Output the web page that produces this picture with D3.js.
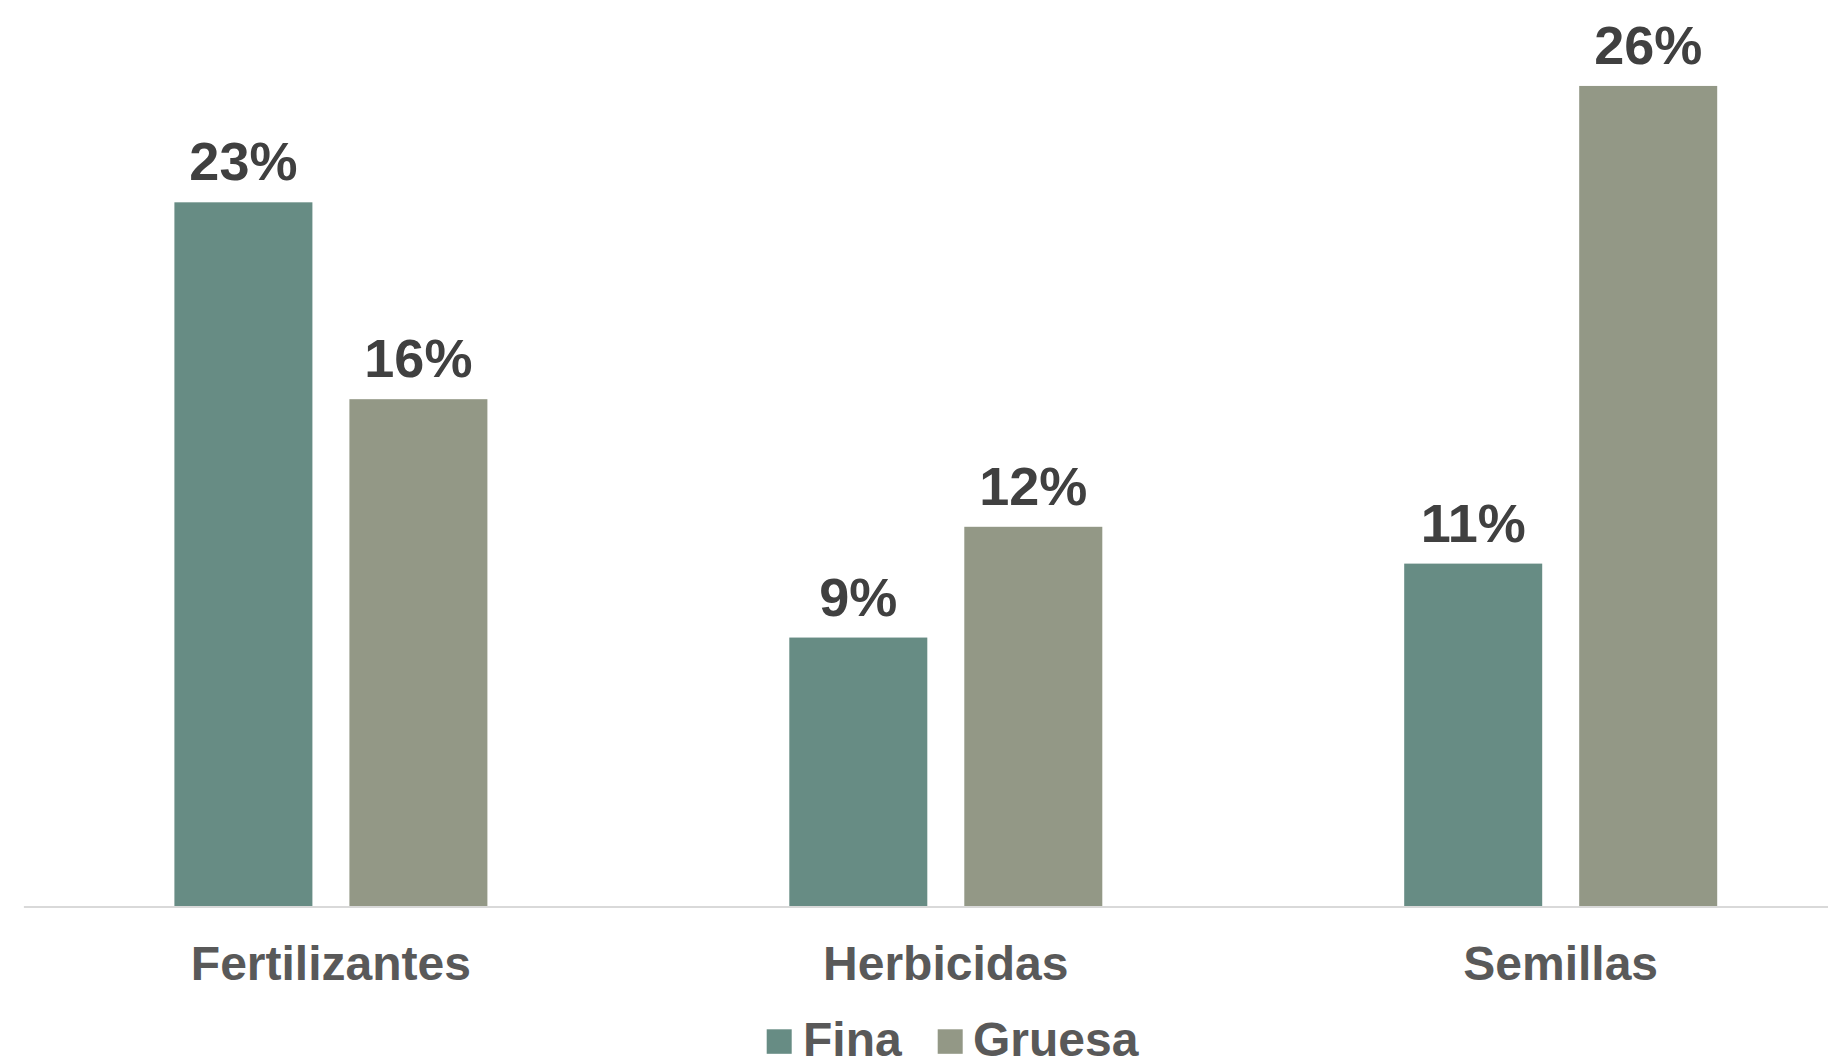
<!DOCTYPE html>
<html>
<head>
<meta charset="utf-8">
<script src="https://cdn.jsdelivr.net/npm/d3@7"></script>
<style>
  html, body { margin: 0; padding: 0; background: #ffffff; overflow: hidden; }
  svg { display: block; font-family: "Liberation Sans", Arial, sans-serif; }
</style>
</head>
<body>
<svg id="chart" width="1828" height="1060"></svg>
<script>
const categories = ["Fertilizantes", "Herbicidas", "Semillas"];
const seriesNames = ["Fina", "Gruesa"];
const finaValues = [22.57, 8.62, 10.99];
const gruesaValues = [16.26, 12.17, 26.30];
const valueLabels = { Fina: ["23%", "9%", "11%"], Gruesa: ["16%", "12%", "26%"] };
const colors = { Fina: "#678c84", Gruesa: "#939886" };

const svg = d3.select("#chart");
const baseY = 906.5;
const pxPerUnit = 31.2;

const x0 = d3.scaleBand().domain(categories).range([23.4, 23.4 + 3 * 614.9]).paddingInner(0).paddingOuter(0);
const x1 = d3.scaleBand().domain(seriesNames).range([151, 464]).paddingInner(0.2114).paddingOuter(0);
const y = d3.scaleLinear().domain([0, 29]).range([baseY, baseY - 29 * pxPerUnit]);

const rows = categories.map((c, i) => ({
  category: c,
  values: [
    { series: "Fina", value: finaValues[i], label: valueLabels.Fina[i] },
    { series: "Gruesa", value: gruesaValues[i], label: valueLabels.Gruesa[i] }
  ]
}));

const groups = svg.selectAll("g.group").data(rows).join("g")
  .attr("class", "group")
  .attr("transform", d => `translate(${x0(d.category)},0)`);

groups.selectAll("rect").data(d => d.values).join("rect")
  .attr("x", d => x1(d.series))
  .attr("width", x1.bandwidth())
  .attr("y", d => y(d.value))
  .attr("height", d => baseY - y(d.value))
  .attr("fill", d => colors[d.series]);

groups.selectAll("text.val").data(d => d.values).join("text")
  .attr("class", "val")
  .attr("x", d => x1(d.series) + x1.bandwidth() / 2)
  .attr("y", d => y(d.value) - 22)
  .attr("text-anchor", "middle")
  .attr("font-size", 54)
  .attr("font-weight", "bold")
  .attr("fill", "#404040")
  .text(d => d.label);

// x axis
const axis = svg.append("g")
  .attr("transform", `translate(0,${baseY})`)
  .call(d3.axisBottom(x0).tickSize(0).tickSizeOuter(0));
axis.select(".domain").attr("stroke", "#d9d9d9").attr("stroke-width", 2);
axis.selectAll(".tick text")
  .attr("y", 73)
  .attr("dy", 0)
  .attr("font-size", 48)
  .attr("font-weight", "bold")
  .attr("font-family", "Liberation Sans, Arial, sans-serif")
  .attr("fill", "#595959");

// legend
const legendItems = [
  { name: "Fina", sx: 766.7, tx: 803 },
  { name: "Gruesa", sx: 937.7, tx: 973 }
];
const legend = svg.append("g");
legend.selectAll("rect").data(legendItems).join("rect")
  .attr("x", d => d.sx).attr("y", 1029.3)
  .attr("width", 25).attr("height", 24.5)
  .attr("fill", d => colors[d.name]);
legend.selectAll("text").data(legendItems).join("text")
  .attr("x", d => d.tx).attr("y", 1055.5)
  .attr("font-size", 48)
  .attr("font-weight", "bold")
  .attr("fill", "#595959")
  .text(d => d.name);
</script>
</body>
</html>
